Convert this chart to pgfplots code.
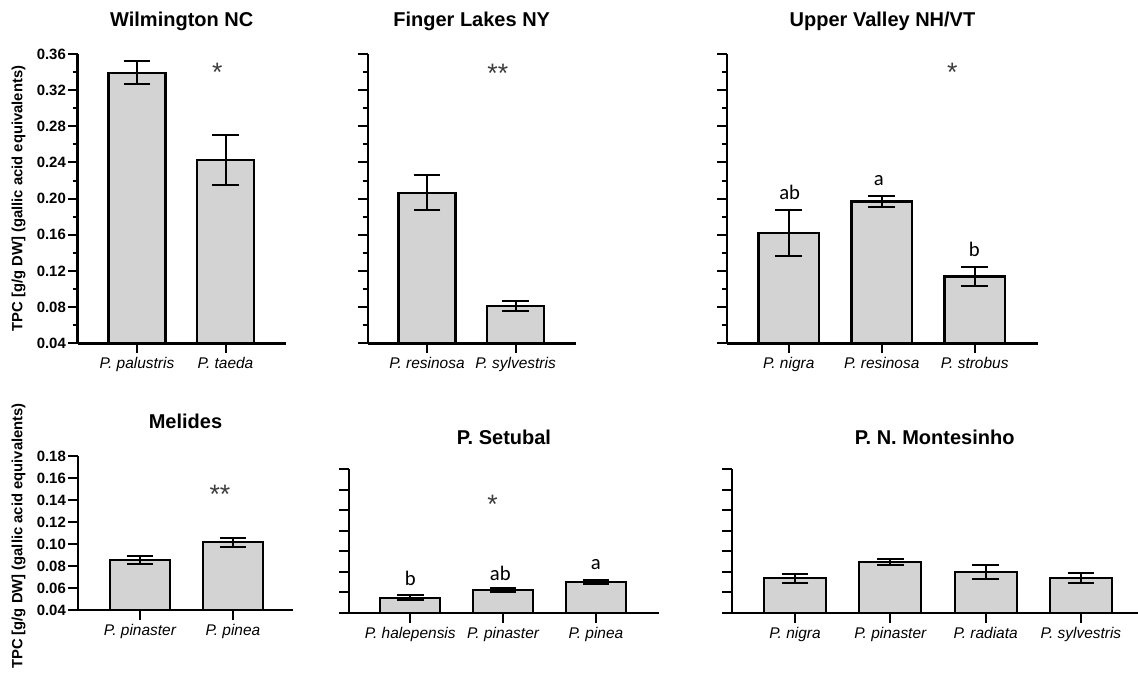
\documentclass[border=0pt]{standalone}
\usepackage{fontspec}
\setmainfont{Liberation Sans}
\newfontfamily\carlito{Carlito}
\usepackage{pgfplots}
\pgfplotsset{compat=1.18}
\definecolor{barfill}{RGB}{211,211,211}
\definecolor{stargray}{RGB}{60,60,60}
\tikzset{
  mystar/.style={font=\fontsize{20}{22}\selectfont, text=stargray, anchor=base, inner sep=0pt},
  myletter/.style={font=\carlito\fontsize{15.5}{18}\selectfont, anchor=base, inner sep=0pt},
}
\pgfplotsset{
  panel/.style={
    scale only axis,
    anchor=south west,
    axis lines*=left,
    axis line style={-, line width=1.8pt},
    tick align=outside,
    major tick length=7.2pt,
    minor tick length=3.8pt,
    tick style={line width=1.5pt, black},
    scaled y ticks=false,
    /pgf/number format/assume math mode=true,
    yticklabel style={font=\fontsize{11.2}{13}\selectfont\bfseries,
      /pgf/number format/fixed, /pgf/number format/fixed zerofill,
      /pgf/number format/precision=2, inner xsep=1.5pt},
    xticklabel style={font=\fontsize{11.6}{13}\selectfont\itshape},
    title style={font=\fontsize{15}{17}\selectfont\bfseries, at={(0.5,1)}, anchor=base},
    ylabel style={font=\fontsize{11.1}{12}\selectfont\bfseries, anchor=center},
    ybar, bar width=0.65,
    clip mode=individual,
  },
  toprow/.style={panel, ymin=0.04, ymax=0.36, height=217pt,
    ytick={0.04,0.08,0.12,0.16,0.20,0.24,0.28,0.32,0.36}, minor y tick num=1,
    title style={yshift=14.5pt}},
  botrow/.style={panel, ymin=0.04, ymax=0.18,
    ytick={0.04,0.06,0.08,0.10,0.12,0.14,0.16,0.18}},
  bars/.style={fill=barfill, draw=black, line width=1.6pt,
    error bars/.cd, y dir=both, y explicit,
    error bar style={line width=1.5pt, black},
    error mark options={rotate=90, line width=1.5pt, black, mark size=10pt}},
}
\begin{document}
\begin{tikzpicture}
% ---------- Top row ----------
\begin{axis}[toprow, at={(58.275pt,246.525pt)}, width=156pt, bar width=0.645,
  xmin=0.33, xmax=2.68, xtick={1,2}, xticklabels={P. palustris, P. taeda},
  title={Wilmington NC},
  ylabel={TPC [g/g DW] (gallic acid equivalents)},
  ylabel style={at={(axis description cs:-0.2846,0.5)}}]
\addplot[bars] coordinates {(1,0.339) +- (0,0.0127) (2,0.243) +- (0,0.0275)};
\node[mystar] at (axis cs:1.907,0.329) {*};
\end{axis}
\begin{axis}[toprow, at={(275.775pt,246.525pt)}, width=156pt, bar width=0.645,
  xmin=0.33, xmax=2.68, xtick={1,2}, xticklabels={P. resinosa, P. sylvestris},
  yticklabels={}, title={Finger Lakes NY}]
\addplot[bars] coordinates {(1,0.2067) +- (0,0.019) (2,0.0812) +- (0,0.0055)};
\node[mystar] at (axis cs:1.80,0.328) {**};
\end{axis}
\begin{axis}[toprow, at={(545.025pt,246.525pt)}, width=233.7pt,
  xmin=0.333, xmax=3.684, xtick={1,2,3}, xticklabels={P. nigra, P. resinosa, P. strobus},
  yticklabels={}, title={Upper Valley NH/VT}]
\addplot[bars] coordinates {(1,0.1619) +- (0,0.0252) (2,0.1968) +- (0,0.006) (3,0.1139) +- (0,0.0105)};
\node[mystar] at (axis cs:2.76,0.329) {*};
\node[myletter] at (axis cs:1.01,0.1987) {ab};
\node[myletter] at (axis cs:1.97,0.2141) {a};
\node[myletter] at (axis cs:2.995,0.136) {b};
\end{axis}
% ---------- Bottom row ----------
\begin{axis}[botrow, at={(58.275pt,46.5pt)}, width=161.7pt, height=115.5pt,
  xmin=0.33, xmax=2.65, xtick={1,2}, xticklabels={P. pinaster, P. pinea},
  title={Melides}, title style={yshift=14.8pt},
  ylabel={TPC [g/g DW] (gallic acid equivalents)},
  ylabel style={at={(axis description cs:-0.2746,0.48)}}]
\addplot[bars] coordinates {(1,0.0855) +- (0,0.004) (2,0.1015) +- (0,0.0043)};
\node[mystar] at (axis cs:1.86,0.1367) {**};
\end{axis}
\begin{axis}[botrow, at={(261.75pt,44.25pt)}, width=232.5pt, height=108pt,
  xmin=0.34, xmax=3.68, xtick={1,2,3}, xticklabels={P. halepensis, P. pinaster, P. pinea},
  yticklabels={}, title={P. Setubal}, title style={yshift=12.6pt}]
\addplot[bars] coordinates {(1,0.0549) +- (0,0.0025) (2,0.0624) +- (0,0.0015) (3,0.0701) +- (0,0.0023)};
\node[mystar] at (axis cs:1.886,0.1366) {*};
\node[myletter] at (axis cs:1.0,0.0663) {b};
\node[myletter] at (axis cs:1.97,0.0714) {ab};
\node[myletter] at (axis cs:3.0,0.0825) {a};
\end{axis}
\begin{axis}[botrow, at={(548.775pt,44.25pt)}, width=304.5pt, height=108pt,
  xmin=0.336, xmax=4.595, xtick={1,2,3,4}, xticklabels={P. nigra, P. pinaster, P. radiata, P. sylvestris},
  yticklabels={}, title={P. N. Montesinho}, title style={yshift=12.6pt}]
\addplot[bars] coordinates {(1,0.0737) +- (0,0.0044) (2,0.0896) +- (0,0.0028) (3,0.0796) +- (0,0.0067) (4,0.074) +- (0,0.0048)};
\end{axis}
\pgfresetboundingbox
\path (0pt,0pt) rectangle (853.5pt,504pt);
\end{tikzpicture}
\end{document}
